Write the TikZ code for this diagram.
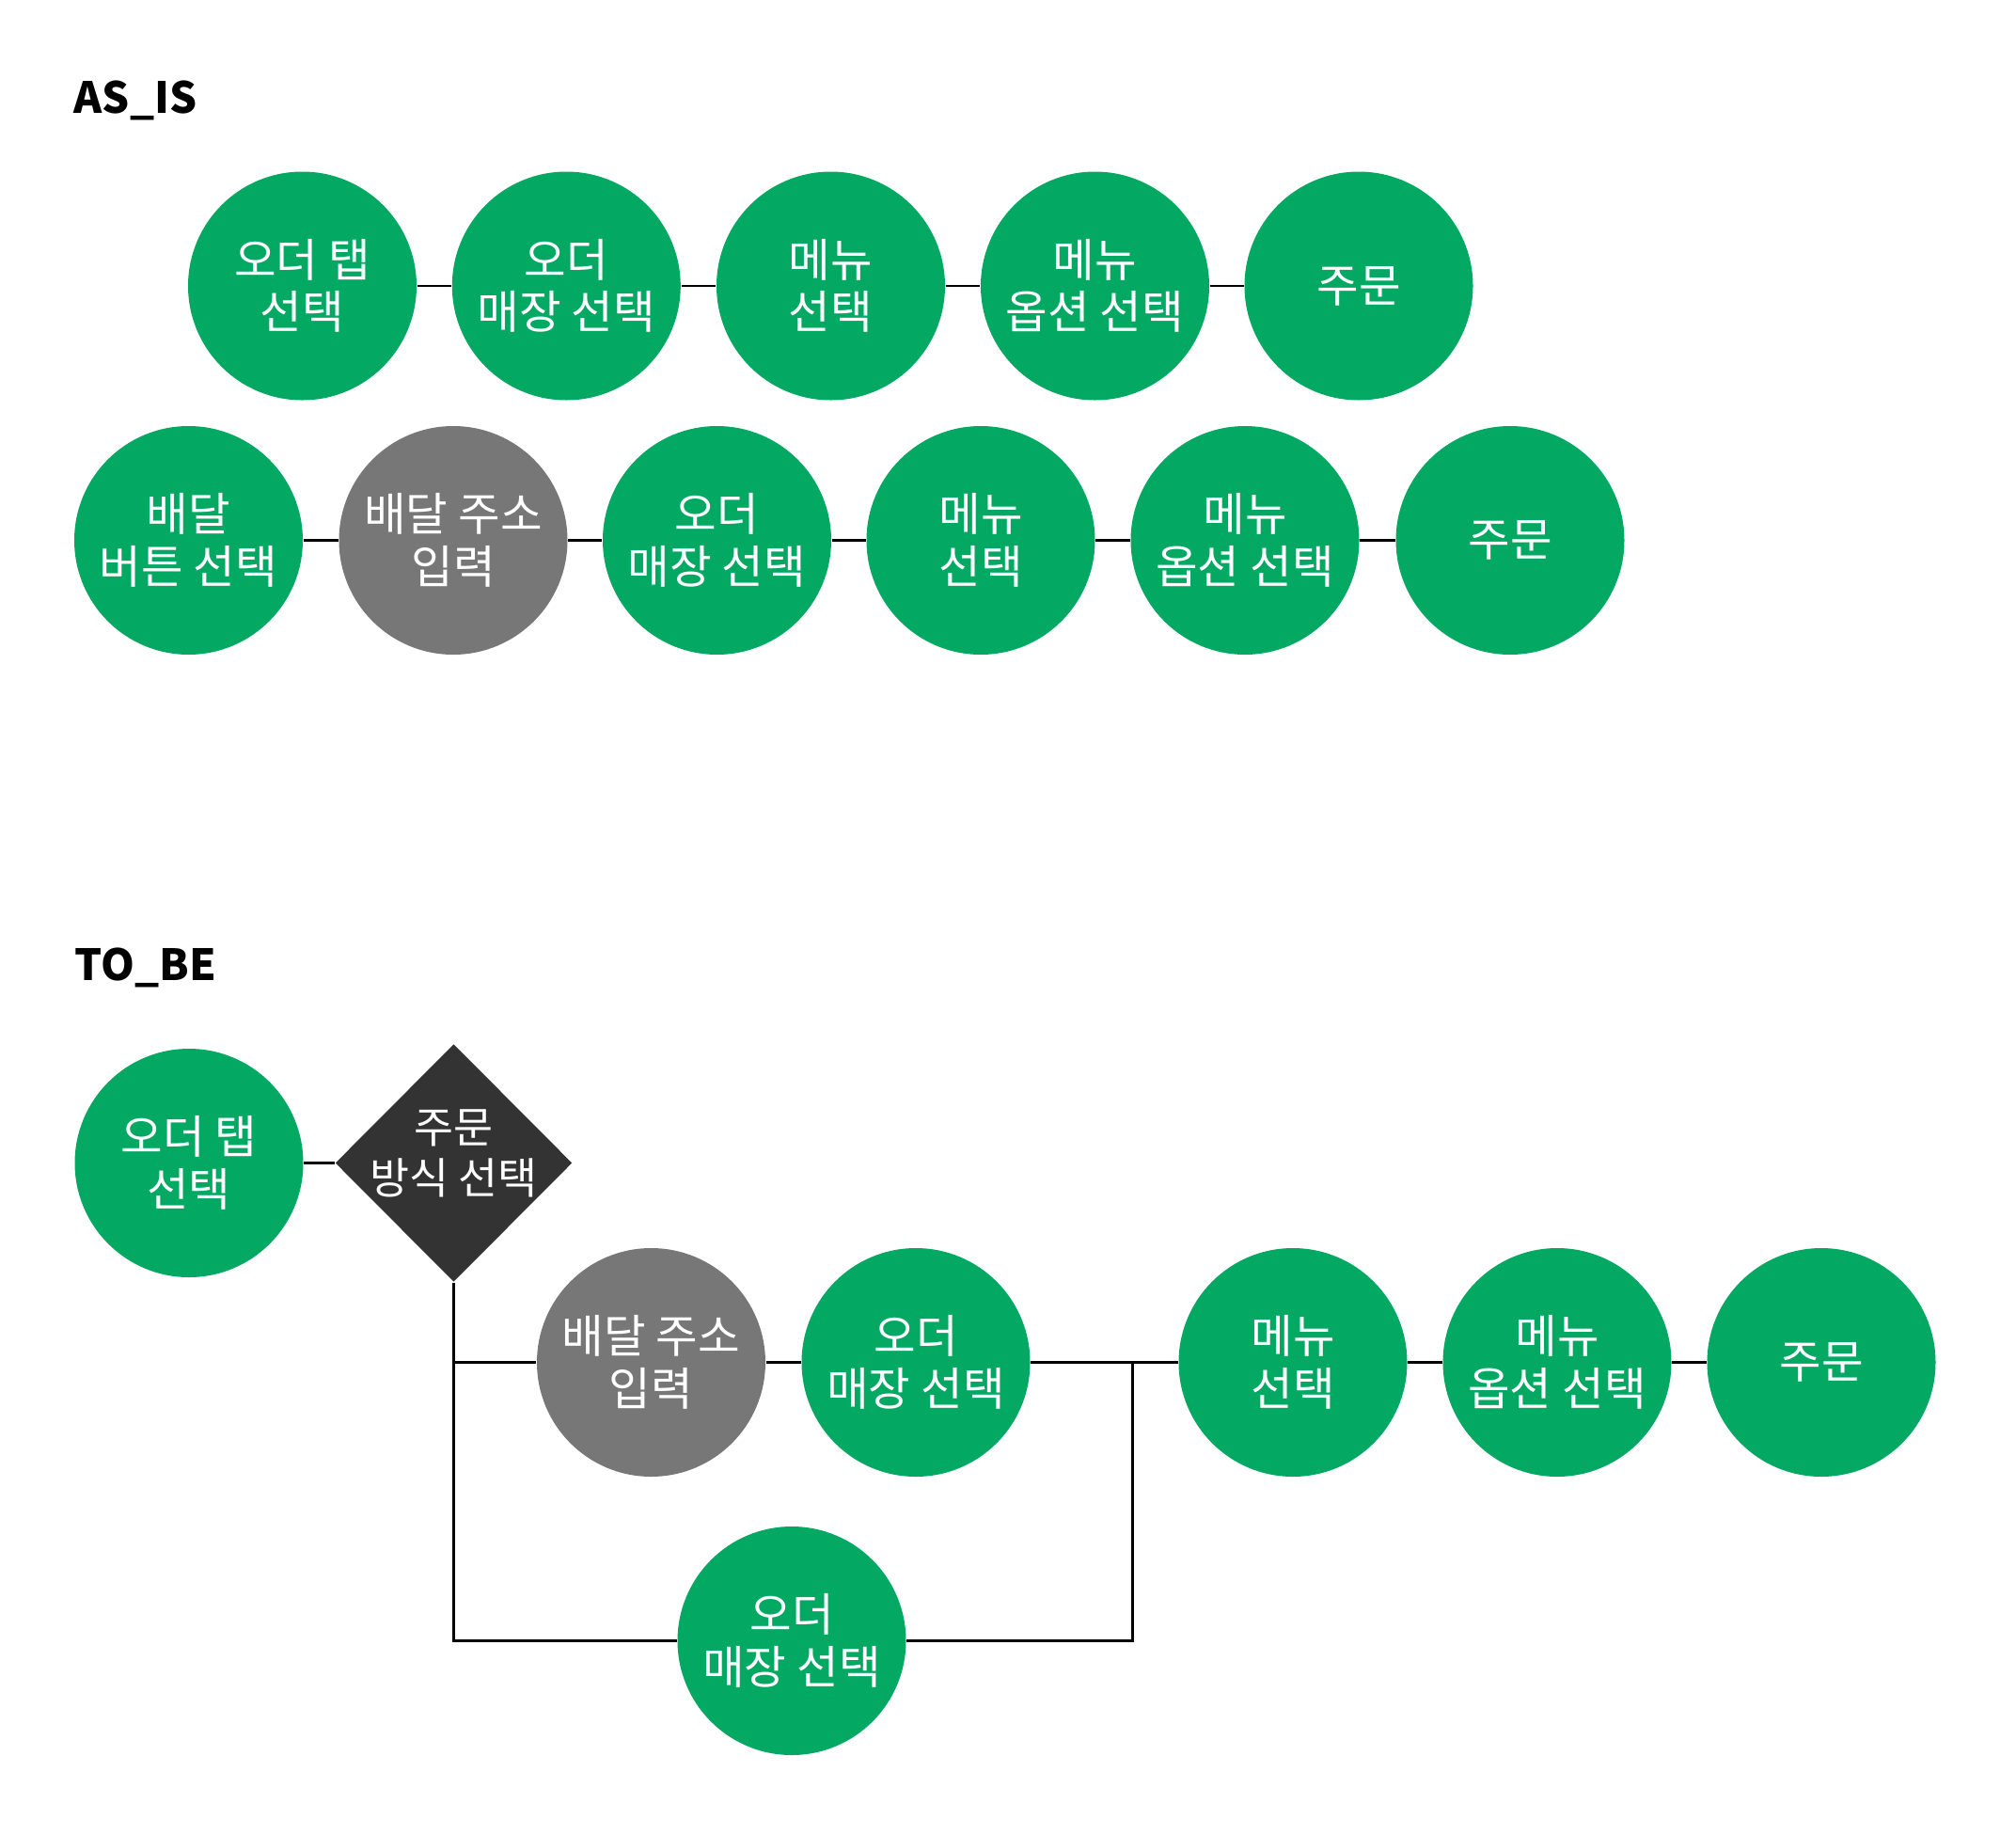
\documentclass[tikz,border=0pt]{standalone}
\usepackage{fontspec}
\setmainfont{Noto Sans CJK KR}
\usetikzlibrary{shapes.geometric}
\definecolor{stepgreen}{RGB}{3,168,98}
\definecolor{stepgray}{RGB}{119,119,119}
\definecolor{stepdark}{RGB}{51,51,51}
\begin{document}
\begin{tikzpicture}[
  every node/.style={font=\fontsize{13.8pt}{15.8pt}\selectfont},
  circ/.style={circle,fill=stepgreen,text=white,minimum size=2.43cm,inner sep=0pt,align=center},
  grcirc/.style={circ,fill=stepgray},
  title/.style={anchor=base west,inner sep=0pt,font=\fontsize{13pt}{16pt}\selectfont\bfseries},
  link/.style={line width=0.6pt}]
\useasboundingbox (0,0) rectangle (21.44,-19.51);

\node[title] (asis) at (0.78,-1.203) {AS\_IS};
\node[circ] (a1) at (3.215,-3.04) {오더 탭\\선택};
\node[circ] (a2) at (6.023,-3.04) {오더\\매장 선택};
\node[circ] (a3) at (8.835,-3.04) {메뉴\\선택};
\node[circ] (a4) at (11.645,-3.04) {메뉴\\옵션 선택};
\node[circ] (a5) at (14.45,-3.04) {주문};
\draw[link] (a1)--(a2);
\draw[link] (a2)--(a3);
\draw[link] (a3)--(a4);
\draw[link] (a4)--(a5);

\node[circ] (b1) at (2.005,-5.745) {배달\\버튼 선택};
\node[grcirc] (b2) at (4.82,-5.745) {배달 주소\\입력};
\node[circ] (b3) at (7.625,-5.745) {오더\\매장 선택};
\node[circ] (b4) at (10.43,-5.745) {메뉴\\선택};
\node[circ] (b5) at (13.24,-5.745) {메뉴\\옵션 선택};
\node[circ] (b6) at (16.06,-5.745) {주문};
\draw[link] (b1)--(b2);
\draw[link] (b2)--(b3);
\draw[link] (b3)--(b4);
\draw[link] (b4)--(b5);
\draw[link] (b5)--(b6);

\node[title] (tobe) at (0.79,-10.42) {TO\_BE};
\node[circ] (c1) at (2.01,-12.365) {오더 탭\\선택};
\node[diamond,fill=stepdark,minimum width=2.52cm,minimum height=2.53cm,inner sep=0pt] (pick) at (4.825,-12.365) {};
\node[text=white,align=center,inner sep=0pt,font=\fontsize{13pt}{15.2pt}\selectfont] (picktext) at ([yshift=0.1cm]pick.center) {주문\\방식 선택};
\node[grcirc] (c2) at (6.925,-14.485) {배달 주소\\입력};
\node[circ] (c3) at (9.74,-14.485) {오더\\매장 선택};
\node[circ] (c4) at (8.42,-17.445) {오더\\매장 선택};
\node[circ] (c5) at (13.75,-14.485) {메뉴\\선택};
\node[circ] (c6) at (16.56,-14.485) {메뉴\\옵션 선택};
\node[circ] (c7) at (19.37,-14.485) {주문};
\coordinate (join) at (12.045,-14.485);
\draw[link] (c1)--(pick.west);
\draw[link] (pick.south)|-(c4.west);
\draw[link] (pick.south|-c2.west)--(c2.west);
\draw[link] (c2)--(c3);
\draw[link] (c3)--(c5);
\draw[link] (c4.east)-|(join);
\draw[link] (c5)--(c6);
\draw[link] (c6)--(c7);
\end{tikzpicture}
\end{document}
